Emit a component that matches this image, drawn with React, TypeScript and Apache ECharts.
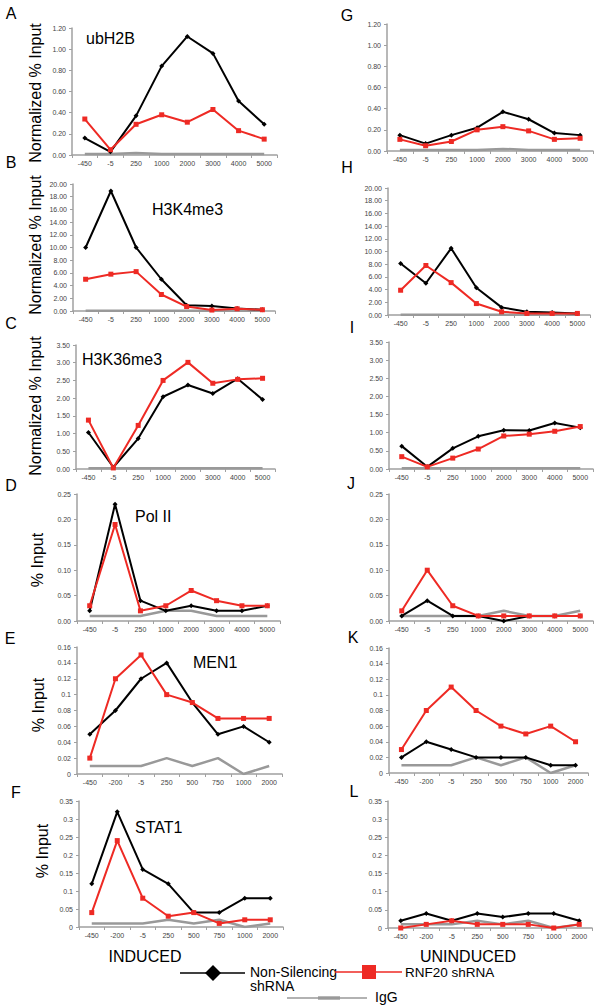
import React, { useEffect, useRef } from "react";
import * as echarts from "echarts";

const catsLong = ["-450", "-5", "250", "1000", "2000", "3000", "4000", "5000"];
const catsShort = ["-450", "-200", "-5", "250", "500", "750", "1000", "2000"];

// A ubH2B induced / G uninduced
const aBlack = [0.16, 0.03, 0.37, 0.84, 1.12, 0.96, 0.51, 0.29];
const aRed = [0.34, 0.05, 0.29, 0.38, 0.31, 0.43, 0.23, 0.15];
const aGray = [0.01, 0.01, 0.02, 0.01, 0.01, 0.01, 0.01, 0.01];
const gBlack = [0.15, 0.07, 0.15, 0.22, 0.37, 0.3, 0.17, 0.15];
const gRed = [0.11, 0.05, 0.09, 0.2, 0.23, 0.19, 0.11, 0.12];
const gGray = [0.01, 0.01, 0.01, 0.01, 0.02, 0.01, 0.01, 0.01];
// B H3K4me3 / H
const bBlack = [10.0, 18.9, 10.0, 5.0, 0.9, 0.8, 0.4, 0.2];
const bRed = [5.0, 5.8, 6.2, 2.6, 0.7, 0.15, 0.35, 0.2];
const bGray = [0.05, 0.05, 0.05, 0.05, 0.05, 0.05, 0.05, 0.05];
const hBlack = [8.1, 5.0, 10.5, 4.3, 1.2, 0.5, 0.4, 0.25];
const hRed = [3.9, 7.8, 5.1, 1.8, 0.5, 0.25, 0.25, 0.25];
const hGray = [0.05, 0.05, 0.05, 0.05, 0.05, 0.05, 0.05, 0.05];
// C H3K36me3 / I
const cBlack = [1.03, 0.05, 0.86, 2.04, 2.37, 2.13, 2.55, 1.96];
const cRed = [1.38, 0.03, 1.23, 2.5, 3.01, 2.42, 2.53, 2.56];
const cGray = [0.02, 0.02, 0.02, 0.02, 0.02, 0.02, 0.02, 0.02];
const iBlack = [0.63, 0.06, 0.57, 0.9, 1.07, 1.06, 1.27, 1.14];
const iRed = [0.34, 0.06, 0.3, 0.55, 0.91, 0.96, 1.04, 1.17];
const iGray = [0.02, 0.02, 0.02, 0.02, 0.02, 0.02, 0.02, 0.02];
// D Pol II / J
const dBlack = [0.02, 0.23, 0.04, 0.02, 0.03, 0.02, 0.02, 0.03];
const dRed = [0.03, 0.19, 0.02, 0.03, 0.06, 0.04, 0.03, 0.03];
const dGray = [0.01, 0.01, 0.01, 0.02, 0.02, 0.01, 0.01, 0.01];
const jBlack = [0.01, 0.04, 0.01, 0.01, 0.0, 0.01, 0.01, 0.01];
const jRed = [0.02, 0.1, 0.03, 0.01, 0.01, 0.01, 0.01, 0.01];
const jGray = [0.01, 0.01, 0.01, 0.01, 0.02, 0.01, 0.01, 0.02];
// E MEN1 / K
const eBlack = [0.05, 0.08, 0.12, 0.14, 0.09, 0.05, 0.06, 0.04];
const eRed = [0.02, 0.12, 0.15, 0.1, 0.09, 0.07, 0.07, 0.07];
const eGray = [0.01, 0.01, 0.01, 0.02, 0.01, 0.02, 0.0, 0.01];
const kBlack = [0.02, 0.04, 0.03, 0.02, 0.02, 0.02, 0.01, 0.01];
const kRed = [0.03, 0.08, 0.11, 0.08, 0.06, 0.05, 0.06, 0.04];
const kGray = [0.01, 0.01, 0.01, 0.02, 0.01, 0.02, 0.0, 0.01];
// F STAT1 / L
const fBlack = [0.12, 0.32, 0.16, 0.12, 0.04, 0.04, 0.08, 0.08];
const fRed = [0.04, 0.24, 0.08, 0.03, 0.04, 0.01, 0.02, 0.02];
const fGray = [0.01, 0.01, 0.01, 0.02, 0.01, 0.02, 0.0, 0.01];
const lBlack = [0.02, 0.04, 0.02, 0.04, 0.03, 0.04, 0.04, 0.02];
const lRed = [0.0, 0.01, 0.02, 0.01, 0.01, 0.01, 0.0, 0.01];
const lGray = [0.01, 0.01, 0.01, 0.02, 0.01, 0.02, 0.0, 0.01];

const FONT = "'Liberation Sans', Arial, Helvetica, sans-serif";
const RED = "#ee2a24";
const GRAY = "#999999";

const fix2 = (v: number) => v.toFixed(2);
const gen = (v: number) => String(Number(v.toFixed(2)));

const panels = [
  { g: [72, 28, 205, 127], cats: catsLong, max: 1.2, step: 0.2, fmt: fix2, d: [aGray, aBlack, aRed] },
  { g: [387, 24, 206, 127], cats: catsLong, max: 1.2, step: 0.2, fmt: fix2, d: [gGray, gBlack, gRed] },
  { g: [73, 184, 202, 127], cats: catsLong, max: 20, step: 2, fmt: fix2, d: [bGray, bBlack, bRed] },
  { g: [388, 188, 202, 127], cats: catsLong, max: 20, step: 2, fmt: fix2, d: [hGray, hBlack, hRed] },
  { g: [76, 345, 199, 124], cats: catsLong, max: 3.5, step: 0.5, fmt: fix2, d: [cGray, cBlack, cRed] },
  { g: [389, 342, 204, 127], cats: catsLong, max: 3.5, step: 0.5, fmt: fix2, d: [iGray, iBlack, iRed] },
  { g: [77, 494, 203, 127], cats: catsLong, max: 0.25, step: 0.05, fmt: fix2, d: [dGray, dBlack, dRed] },
  { g: [389, 494, 204, 127], cats: catsLong, max: 0.25, step: 0.05, fmt: fix2, d: [jGray, jBlack, jRed] },
  { g: [77, 647, 205, 127], cats: catsShort, max: 0.16, step: 0.02, fmt: gen, d: [eGray, eBlack, eRed] },
  { g: [389, 648, 199, 125], cats: catsShort, max: 0.16, step: 0.02, fmt: gen, d: [kGray, kBlack, kRed] },
  { g: [79, 801, 204, 126], cats: catsShort, max: 0.35, step: 0.05, fmt: gen, d: [fGray, fBlack, fRed] },
  { g: [388, 801, 204, 127], cats: catsShort, max: 0.35, step: 0.05, fmt: gen, d: [lGray, lBlack, lRed] },
];

const letters: [string, number, number][] = [
  ["A", 11, 13], ["B", 11, 162], ["C", 11, 323], ["D", 11, 485], ["E", 10, 638], ["F", 16, 792],
  ["G", 347, 15], ["H", 347, 167], ["I", 352, 327], ["J", 351, 483], ["K", 353, 637], ["L", 354, 791],
];
const titles: [string, number, number][] = [
  ["ubH2B", 86, 38], ["H3K4me3", 152, 209], ["H3K36me3", 82, 359],
  ["Pol II", 135, 516], ["MEN1", 193, 662], ["STAT1", 135, 827],
];
const yTitles: [string, number, number][] = [
  ["Normalized % Input", 35, 93], ["Normalized % Input", 35, 245], ["Normalized % Input", 35, 406],
  ["% Input", 37, 560], ["% Input", 38, 705], ["% Input", 42, 851],
];

export default function App() {
  const ref = useRef<HTMLDivElement>(null);
  useEffect(() => {
    if (!ref.current) return;
    const chart = echarts.init(ref.current, undefined, { renderer: "svg" });
    const grid: any[] = [];
    const xAxis: any[] = [];
    const yAxis: any[] = [];
    const series: any[] = [];
    panels.forEach((p, i) => {
      grid.push({ left: p.g[0], top: p.g[1], width: p.g[2], height: p.g[3], containLabel: false });
      xAxis.push({
        type: "category", gridIndex: i, data: p.cats, boundaryGap: true,
        axisLine: { lineStyle: { color: "#a0a0a0", width: 1.5 } },
        axisTick: { show: true, length: 3, inside: false, lineStyle: { color: "#a0a0a0" } },
        axisLabel: { fontSize: 7, color: "#444", fontFamily: FONT, margin: 5, interval: 0 },
        splitLine: { show: false },
      });
      yAxis.push({
        type: "value", gridIndex: i, min: 0, max: p.max, interval: p.step,
        axisLine: { show: true, lineStyle: { color: "#a0a0a0", width: 1.5 } },
        axisTick: { show: true, length: 3, lineStyle: { color: "#a0a0a0" } },
        axisLabel: { fontSize: 7, color: "#444", fontFamily: FONT, margin: 6, formatter: p.fmt },
        splitLine: { show: false },
      });
      series.push({
        type: "line", xAxisIndex: i, yAxisIndex: i, data: p.d[0], symbol: "none",
        lineStyle: { color: GRAY, width: 2.5 }, itemStyle: { color: GRAY }, z: 1,
      });
      series.push({
        type: "line", xAxisIndex: i, yAxisIndex: i, data: p.d[1], symbol: "diamond", symbolSize: 5,
        lineStyle: { color: "#000", width: 2 }, itemStyle: { color: "#000" }, z: 2,
      });
      series.push({
        type: "line", xAxisIndex: i, yAxisIndex: i, data: p.d[2], symbol: "rect", symbolSize: 5,
        lineStyle: { color: RED, width: 2 }, itemStyle: { color: RED }, z: 3,
      });
    });

    const graphic: any[] = [];
    letters.forEach(([t, x, y]) =>
      graphic.push({ type: "text", x, y, style: { text: t, fontSize: 16, fontFamily: FONT, fill: "#000", align: "center", verticalAlign: "middle" } })
    );
    titles.forEach(([t, x, y]) =>
      graphic.push({ type: "text", x, y, style: { text: t, fontSize: 16, fontFamily: FONT, fill: "#000", align: "left", verticalAlign: "middle" } })
    );
    yTitles.forEach(([t, x, y]) =>
      graphic.push({ type: "text", x, y, rotation: Math.PI / 2, style: { text: t, fontSize: 16, fontFamily: FONT, fill: "#000", align: "center", verticalAlign: "middle" } })
    );
    graphic.push({ type: "text", x: 145, y: 956, style: { text: "INDUCED", fontSize: 16, fontFamily: FONT, fill: "#000", align: "center", verticalAlign: "middle" } });
    graphic.push({ type: "text", x: 468, y: 956, style: { text: "UNINDUCED", fontSize: 16, fontFamily: FONT, fill: "#000", align: "center", verticalAlign: "middle" } });
    // legend
    graphic.push({ type: "line", shape: { x1: 180, y1: 973, x2: 245, y2: 973 }, style: { stroke: "#000", lineWidth: 1.5 } });
    graphic.push({ type: "polygon", shape: { points: [[213, 965], [221, 973], [213, 981], [205, 973]] }, style: { fill: "#000" } });
    graphic.push({ type: "text", x: 250, y: 972, style: { text: "Non-Silencing", fontSize: 14, fontFamily: FONT, fill: "#000", align: "left", verticalAlign: "middle" } });
    graphic.push({ type: "text", x: 250, y: 986, style: { text: "shRNA", fontSize: 14, fontFamily: FONT, fill: "#000", align: "left", verticalAlign: "middle" } });
    graphic.push({ type: "line", shape: { x1: 335, y1: 972, x2: 402, y2: 972 }, style: { stroke: RED, lineWidth: 1.5 } });
    graphic.push({ type: "rect", shape: { x: 362, y: 965, width: 14, height: 14 }, style: { fill: RED } });
    graphic.push({ type: "text", x: 405, y: 972, style: { text: "RNF20 shRNA", fontSize: 13.5, fontFamily: FONT, fill: "#000", align: "left", verticalAlign: "middle" } });
    graphic.push({ type: "line", shape: { x1: 287, y1: 998, x2: 367, y2: 998 }, style: { stroke: GRAY, lineWidth: 1.5 } });
    graphic.push({ type: "rect", shape: { x: 318, y: 996.3, width: 22, height: 3.4 }, style: { fill: GRAY } });
    graphic.push({ type: "text", x: 375, y: 997, style: { text: "IgG", fontSize: 14, fontFamily: FONT, fill: "#000", align: "left", verticalAlign: "middle" } });

    chart.setOption({
      animation: false,
      backgroundColor: "#fff",
      grid, xAxis, yAxis, series, graphic,
    });
    return () => chart.dispose();
  }, []);
  return (
    <div
      ref={ref}
      style={{ position: "absolute", left: 0, top: 0, width: 600, height: 1007, background: "#fff" }}
    />
  );
}
